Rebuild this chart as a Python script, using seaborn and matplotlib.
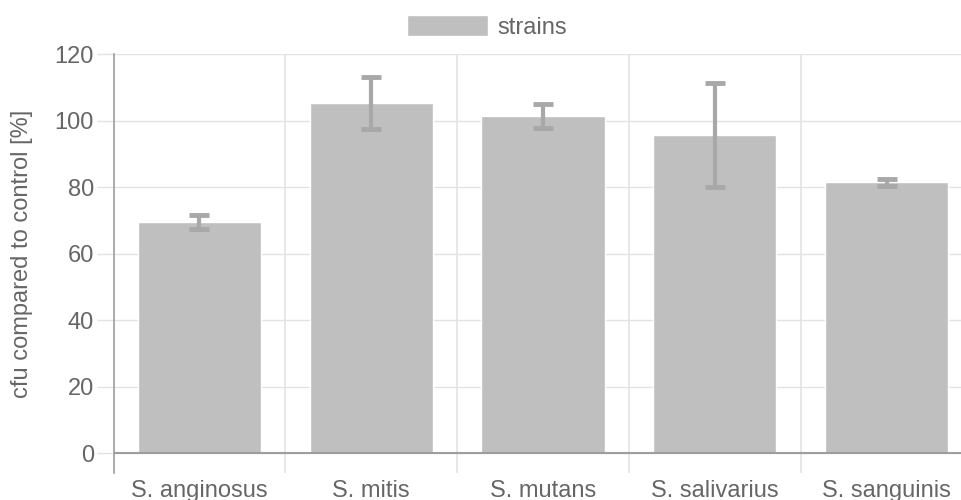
import matplotlib
matplotlib.use("Agg")
import matplotlib.pyplot as plt
import seaborn as sns
import pandas as pd

strains = ["S. anginosus", "S. mitis", "S. mutans", "S. salivarius", "S. sanguinis"]
cfu_percent = [69.5, 105.3, 101.4, 95.6, 81.4]
cfu_error = [2.2, 7.7, 3.6, 15.6, 1.1]
y_ticks = [0, 20, 40, 60, 80, 100, 120]
series_label = "strains"

sns.set_theme(style="white")
plt.rcParams['font.family'] = ['Liberation Sans', 'DejaVu Sans']

text_color = "#666666"
bar_color = "#bfbfbf"
err_color = "#a8a8a8"
grid_color = "#e3e3e3"
axis_color = "#9e9e9e"
fs = 17

df = pd.DataFrame({"strain": strains, "cfu": cfu_percent, "err": cfu_error})

W, H = 961, 500
left_px, top_px, bottom_px = 113.5, 54.0, 472.7
fig = plt.figure(figsize=(W / 100, H / 100), dpi=100)
ax = fig.add_axes([left_px / W, 1 - bottom_px / H, 1 - left_px / W, (bottom_px - top_px) / H])

sns.barplot(data=df, x="strain", y="cfu", color=bar_color, width=0.718,
            saturation=1, ax=ax, label=series_label, errorbar=None, zorder=2)
ax.errorbar(x=list(range(len(strains))), y=df["cfu"], yerr=df["err"], fmt="none",
            ecolor=err_color, elinewidth=3, capsize=7, capthick=3.5, zorder=3)

ax.set_yticks(y_ticks)
ax.set_xticks([i + 0.5 for i in range(-1, len(strains))], minor=True)
ax.set_ylim(-5.83, 120)
ax.set_xlim(-0.5, -0.5 + (W - left_px) / 171.8)
ax.grid(axis="y", color=grid_color, linewidth=1, zorder=0)
ax.grid(axis="x", which="minor", color=grid_color, linewidth=1.2, zorder=0)
ax.grid(axis="x", which="major", visible=False)
ax.set_axisbelow(True)
ax.axhline(0, color=axis_color, linewidth=1.5, zorder=4)

for s in ["top", "right", "bottom"]:
    ax.spines[s].set_visible(False)
ax.spines["left"].set_color(axis_color)
ax.spines["left"].set_linewidth(1.2)

ax.tick_params(axis="y", which="major", left=True, length=12, width=1, color=grid_color,
               labelsize=fs, labelcolor=text_color, pad=2)
ax.tick_params(axis="x", which="both", bottom=False, length=0, labelsize=fs,
               labelcolor=text_color, pad=5)
ax.set_xlabel("")
ax.set_ylabel("cfu compared to control [%]", fontsize=fs, color=text_color)
ax.yaxis.label.set_verticalalignment("center")
ax.yaxis.set_label_coords((22 - left_px) / (W - left_px), (bottom_px - 253.5) / (bottom_px - top_px))

if ax.legend_ is not None:
    ax.legend_.remove()
handles, labels = ax.get_legend_handles_labels()
fig.legend(handles[:1], labels[:1], loc="upper center", bbox_to_anchor=(0.507, 1.0),
           frameon=False, fontsize=fs, labelcolor=text_color,
           handlelength=3.4, handleheight=1.0, handletextpad=0.42, borderaxespad=0.25)

fig.savefig("out.png", dpi=100)
